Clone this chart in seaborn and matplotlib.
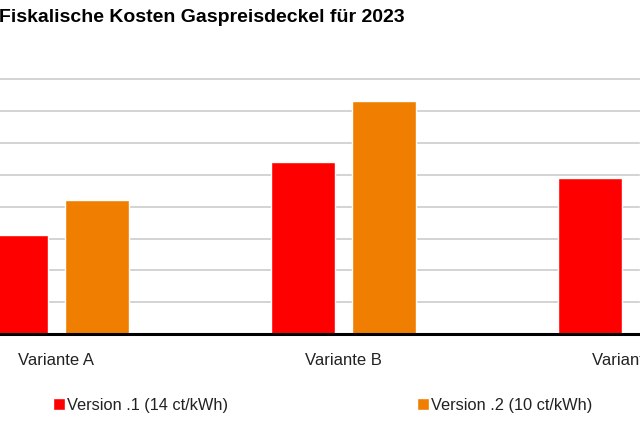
import matplotlib
matplotlib.use("Agg")
import matplotlib.pyplot as plt
import pandas as pd
import seaborn as sns

# values (grid step assumed to be 5)
varianten = ["Variante A", "Variante B", "Variante C"]
version_1 = [15.55, 26.95, 24.5]
version_2 = [21.0, 36.5, 33.1]
series_names = ["Version .1 (14 ct/kWh)", "Version .2 (10 ct/kWh)"]
y_ticks = [0, 5, 10, 15, 20, 25, 30, 35, 40]

df = pd.DataFrame({
    "variante": varianten * 2,
    "version": [series_names[0]] * 3 + [series_names[1]] * 3,
    "kosten": version_1 + version_2,
})

sns.set_style("white")
plt.rcParams["font.family"] = ["Liberation Sans", "DejaVu Sans"]

fig = plt.figure(figsize=(6.4, 4.27), dpi=100)
W, H = 640, 427
# plot area deliberately wider than the figure: the reference is a crop
left_px, right_px = 56.5 - 0.5 * 287.2, 630.75 + 0.5 * 287.2
top_px, bottom_px = 80.0, 335.3
ax = fig.add_axes([left_px / W, (H - bottom_px) / H,
                   (right_px - left_px) / W, (bottom_px - top_px) / H])

sns.barplot(data=df, x="variante", y="kosten", hue="version",
            palette=["#FF0000", "#F07E00"], width=0.5676, gap=0.2147,
            saturation=1, ax=ax, zorder=3)

ax.set_xlim(-0.5, 2.5)
ax.set_ylim(0, 40)
ax.set_yticks(y_ticks)
ax.yaxis.grid(True, color="#c8c8c8", linewidth=1.1, zorder=0)
for gl in ax.get_ygridlines():
    gl.set_clip_on(False)
ax.set_axisbelow(True)
for side in ["top", "left", "right"]:
    ax.spines[side].set_visible(False)
ax.spines["bottom"].set_color("black")
ax.spines["bottom"].set_linewidth(2.2)
ax.spines["bottom"].set_zorder(5)
ax.tick_params(axis="x", length=0, pad=12.5, labelsize=12, labelcolor="#222222")
ax.tick_params(axis="y", length=0, labelleft=False)
ax.set_xlabel("")
ax.set_ylabel("")

handles, labels = ax.get_legend_handles_labels()
ax.legend_.remove()
fig.legend(handles, labels, loc="center left", bbox_to_anchor=(52.7 / W, (H - 406) / H),
           ncol=2, frameon=False, fontsize=11.8, handlelength=0.72, handleheight=0.72,
           handletextpad=0.14, columnspacing=11.55, borderpad=0, borderaxespad=0,
           labelcolor="#222222")

fig.text(-1 / W, (H - 18) / H, "Fiskalische Kosten Gaspreisdeckel für 2023",
         fontsize=14, fontweight="bold", ha="left", va="center", color="black")

fig.savefig("out.png", dpi=100)
plt.close(fig)
